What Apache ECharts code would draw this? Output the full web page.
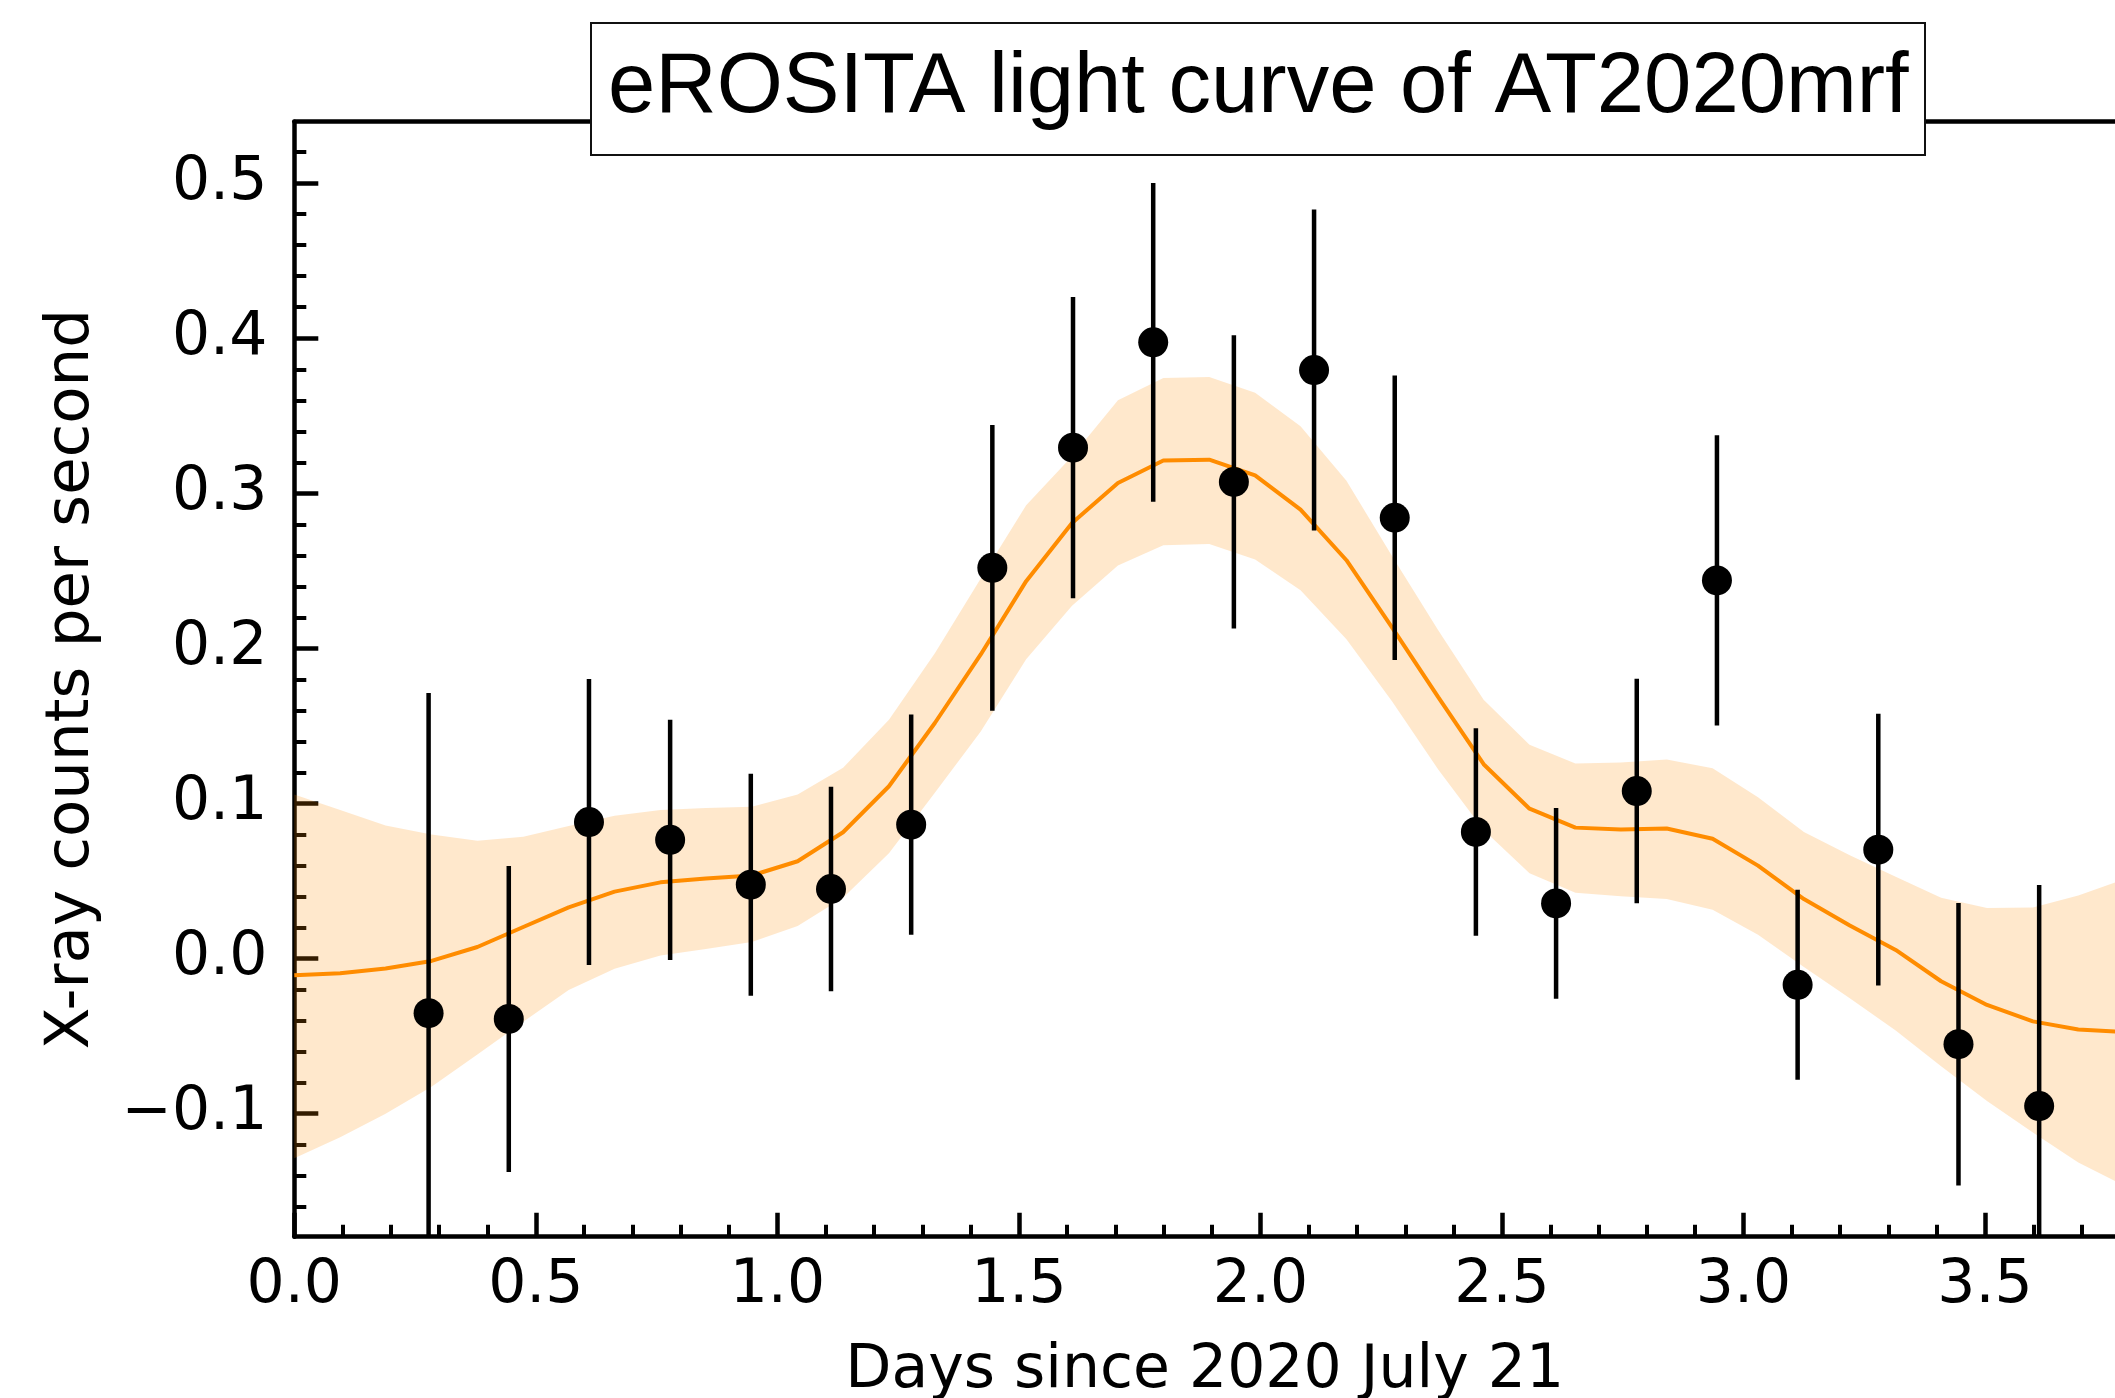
<!DOCTYPE html>
<html>
<head>
  <meta charset="UTF-8">
  <title>eROSITA light curve of AT2020mrf</title>
  <script src="https://cdn.jsdelivr.net/npm/echarts@6/dist/echarts.min.js"></script>
  <style>
    html, body { margin: 0; padding: 0; background: #fff; }
    #main { width: 2115px; height: 1398px; }
  </style>
</head>
<body>
<div id="main"></div>
<script type="text/javascript">
  // measured points: days since 2020 July 21, counts/s and 1 sigma error
  var ptX = [0.278, 0.444, 0.610, 0.778, 0.945, 1.111, 1.277, 1.445, 1.612, 1.778, 1.945,
             2.111, 2.278, 2.446, 2.612, 2.779, 2.945, 3.112, 3.279, 3.445, 3.612];
  var ptY = [-0.0354, -0.0391, 0.0879, 0.0764, 0.0475, 0.0447, 0.0862, 0.2519, 0.3294, 0.3974, 0.3073,
             0.3795, 0.2842, 0.0815, 0.0354, 0.1079, 0.2438, -0.0171, 0.0701, -0.0554, -0.0953];
  var ptErr = [0.2066, 0.0987, 0.0922, 0.0775, 0.0716, 0.0660, 0.0710, 0.0922, 0.0972, 0.1028, 0.0946,
               0.1036, 0.0918, 0.0669, 0.0615, 0.0724, 0.0936, 0.0613, 0.0877, 0.0911, 0.1426];

  // smooth model curve with its band
  var curveX = [0.000, 0.095, 0.189, 0.284, 0.379, 0.474, 0.568, 0.663, 0.758, 0.852,
                0.947, 1.042, 1.136, 1.231, 1.326, 1.421, 1.515, 1.610, 1.705, 1.799,
                1.894, 1.989, 2.083, 2.178, 2.273, 2.368, 2.462, 2.557, 2.652, 2.746,
                2.841, 2.936, 3.030, 3.125, 3.220, 3.315, 3.409, 3.504, 3.599, 3.693, 3.788];
  var curveMean = [-0.0110, -0.0097, -0.0066, -0.0017, 0.0073, 0.0202, 0.0329, 0.0430, 0.0490, 0.0515,
                   0.0534, 0.0626, 0.0813, 0.1110, 0.1518, 0.1960, 0.2433, 0.2808, 0.3066, 0.3211,
                   0.3217, 0.3115, 0.2894, 0.2568, 0.2131, 0.1685, 0.1252, 0.0965, 0.0843, 0.0831,
                   0.0837, 0.0771, 0.0598, 0.0382, 0.0212, 0.0054, -0.0148, -0.0301, -0.0407, -0.0459, -0.0476];
  var curveUpper = [0.1057, 0.0956, 0.0856, 0.0799, 0.0758, 0.0784, 0.0853, 0.0919, 0.0957, 0.0970,
                    0.0977, 0.1057, 0.1230, 0.1539, 0.1968, 0.2450, 0.2923, 0.3239, 0.3600, 0.3744,
                    0.3750, 0.3648, 0.3432, 0.3081, 0.2592, 0.2116, 0.1668, 0.1378, 0.1256, 0.1263,
                    0.1283, 0.1226, 0.1039, 0.0814, 0.0664, 0.0526, 0.0390, 0.0325, 0.0327, 0.0405, 0.0510];
  var curveLower = [-0.1290, -0.1155, -0.1003, -0.0829, -0.0621, -0.0410, -0.0205, -0.0068, 0.0018, 0.0060,
                    0.0105, 0.0208, 0.0390, 0.0678, 0.1068, 0.1463, 0.1929, 0.2275, 0.2534, 0.2664,
                    0.2672, 0.2572, 0.2375, 0.2059, 0.1655, 0.1218, 0.0828, 0.0548, 0.0423, 0.0400,
                    0.0383, 0.0313, 0.0152, -0.0056, -0.0257, -0.0465, -0.0696, -0.0920, -0.1123, -0.1317, -0.1466];

  // ticks
  var xMajor = [0, 0.5, 1.0, 1.5, 2.0, 2.5, 3.0, 3.5];
  var xMinor = [0.1, 0.2, 0.3, 0.4, 0.6, 0.7, 0.8, 0.9, 1.1, 1.2, 1.3, 1.4, 1.6, 1.7, 1.8, 1.9,
                2.1, 2.2, 2.3, 2.4, 2.6, 2.7, 2.8, 2.9, 3.1, 3.2, 3.3, 3.4, 3.6, 3.7];
  var yMajor = [-0.1, 0, 0.1, 0.2, 0.3, 0.4, 0.5];
  var yMinor = [-0.16, -0.14, -0.12, -0.08, -0.06, -0.04, -0.02, 0.02, 0.04, 0.06, 0.08,
                0.12, 0.14, 0.16, 0.18, 0.22, 0.24, 0.26, 0.28, 0.32, 0.34, 0.36, 0.38,
                0.42, 0.44, 0.46, 0.48, 0.52];

  var X_MIN = 0, X_MAX = 3.769;
  var Y_MIN = -0.1796, Y_MAX = 0.5397;

  var tickFont = 'DejaVu Sans';
  var black = '#000';

  function fmt(v) {
    var s = Math.abs(v).toFixed(1);
    return v < -1e-9 ? '\u2212' + s : s;
  }

  var meanData = curveX.map(function (x, i) { return [x, curveMean[i]]; });
  var pointData = ptX.map(function (x, i) { return [x, ptY[i]]; });
  var errData = ptX.map(function (x, i) { return [x, ptY[i], ptErr[i]]; });

  var option = {
    animation: false,
    backgroundColor: '#fff',
    title: {
      text: 'eROSITA light curve of AT2020mrf',
      left: 591,
      top: 23,
      padding: [24, 17],
      borderColor: '#111',
      borderWidth: 2,
      backgroundColor: '#fff',
      textStyle: {
        fontFamily: 'Liberation Sans',
        fontSize: 85,
        fontWeight: 'normal',
        color: black,
        lineHeight: 84
      }
    },
    grid: {
      left: 294.3,
      top: 121.7,
      right: 0,
      bottom: 161.3,
      containLabel: false,
      outerBoundsMode: 'none'
    },
    xAxis: [{
      type: 'value', position: 'bottom', min: X_MIN, max: X_MAX,
      axisLine: { show: true, onZero: false, lineStyle: { color: black, width: 4.5 } },
      axisTick: { show: true, inside: true, length: 24, customValues: xMajor,
                  lineStyle: { color: black, width: 4.5 } },
      axisLabel: { customValues: xMajor, formatter: fmt, fontFamily: tickFont,
                   fontSize: 60, color: black, margin: 20 },
      splitLine: { show: false },
      name: 'Days since 2020 July 21',
      nameLocation: 'middle',
      nameGap: 105,
      nameTextStyle: { fontFamily: tickFont, fontSize: 60, color: black }
    }, {
      // minor ticks
      type: 'value', position: 'bottom', min: X_MIN, max: X_MAX,
      axisLine: { show: false, onZero: false },
      axisTick: { show: true, inside: true, length: 12, customValues: xMinor,
                  lineStyle: { color: black, width: 4 } },
      axisLabel: { show: false },
      splitLine: { show: false }
    }, {
      // top spine
      type: 'value', position: 'top', min: X_MIN, max: X_MAX,
      axisLine: { show: true, onZero: false, lineStyle: { color: black, width: 4.5 } },
      axisTick: { show: false },
      axisLabel: { show: false },
      splitLine: { show: false }
    }],
    yAxis: [{
      type: 'value', position: 'left', min: Y_MIN, max: Y_MAX,
      axisLine: { show: true, onZero: false, lineStyle: { color: black, width: 4.5 } },
      axisTick: { show: true, inside: true, length: 24, customValues: yMajor,
                  lineStyle: { color: black, width: 4.5 } },
      axisLabel: { customValues: yMajor, formatter: fmt, fontFamily: tickFont,
                   fontSize: 60, color: black, margin: 27 },
      splitLine: { show: false },
      name: 'X-ray counts per second',
      nameLocation: 'middle',
      nameGap: 192,
      nameRotate: 90,
      nameTextStyle: { fontFamily: tickFont, fontSize: 61, color: black }
    }, {
      type: 'value', position: 'left', min: Y_MIN, max: Y_MAX,
      axisLine: { show: false, onZero: false },
      axisTick: { show: true, inside: true, length: 12, customValues: yMinor,
                  lineStyle: { color: black, width: 4 } },
      axisLabel: { show: false },
      splitLine: { show: false }
    }],
    series: [{
      // confidence band
      type: 'custom',
      xAxisIndex: 0, yAxisIndex: 0,
      data: [[0, 0]],
      silent: true,
      z: 1,
      renderItem: function (params, api) {
        var pts = [];
        for (var i = 0; i < curveX.length; i++) pts.push(api.coord([curveX[i], curveUpper[i]]));
        for (var j = curveX.length - 1; j >= 0; j--) pts.push(api.coord([curveX[j], curveLower[j]]));
        return { type: 'polygon', shape: { points: pts }, style: { fill: 'rgba(255,140,0,0.2)' } };
      }
    }, {
      type: 'line',
      xAxisIndex: 0, yAxisIndex: 0,
      data: meanData,
      showSymbol: false,
      clip: true,
      z: 2,
      lineStyle: { color: '#ff8c00', width: 4 }
    }, {
      // error bars
      type: 'custom',
      xAxisIndex: 0, yAxisIndex: 0,
      data: errData,
      encode: { x: 0, y: 1 },
      z: 3,
      renderItem: function (params, api) {
        var x = api.value(0), y = api.value(1), e = api.value(2);
        var top = api.coord([x, y + e]);
        var bot = api.coord([x, y - e]);
        var cs = params.coordSys;
        var y1 = Math.max(top[1], cs.y);
        var y2 = Math.min(bot[1], cs.y + cs.height);
        return { type: 'line', shape: { x1: top[0], y1: y1, x2: bot[0], y2: y2 },
                 style: { stroke: black, lineWidth: 4.5 } };
      }
    }, {
      type: 'scatter',
      xAxisIndex: 0, yAxisIndex: 0,
      data: pointData,
      symbol: 'circle',
      symbolSize: 30,
      z: 4,
      itemStyle: { color: black, opacity: 1 }
    }]
  };

  var myChart = echarts.init(document.getElementById('main'));
  myChart.setOption(option);
</script>
</body>
</html>
